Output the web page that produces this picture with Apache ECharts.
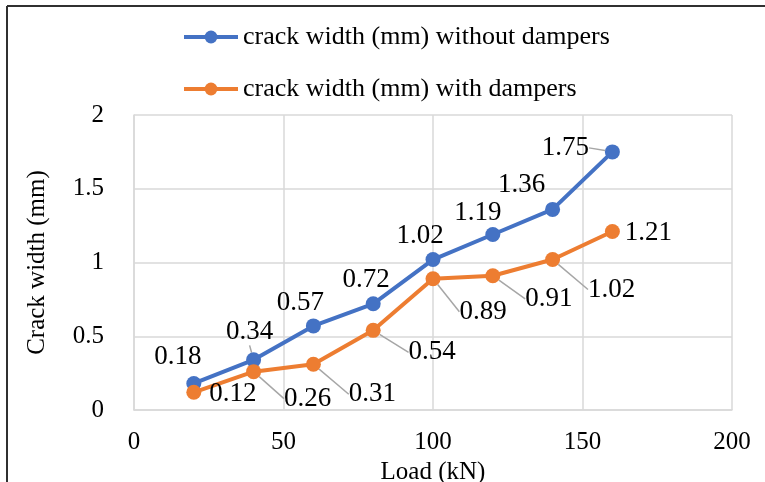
<!DOCTYPE html>
<html>
<head>
<meta charset="utf-8">
<script src="https://cdn.jsdelivr.net/npm/echarts@6/dist/echarts.min.js"></script>
<style>
  html, body { margin: 0; padding: 0; background: #fff; }
  #chart { width: 765px; height: 482px; }
</style>
</head>
<body>
<div id="chart"></div>
<script>
// Load steps (kN) and measured crack widths (mm)
const loads = [20, 40, 60, 80, 100, 120, 140, 160];
const withoutDampers = [0.18, 0.34, 0.57, 0.72, 1.02, 1.19, 1.36, 1.75];
const withDampers = [0.12, 0.26, 0.31, 0.54, 0.89, 0.91, 1.02, 1.21];
const seriesNames = ['crack width (mm) without dampers', 'crack width (mm) with dampers'];
const xTicks = [0, 50, 100, 150, 200];
const yTicks = [0, 0.5, 1, 1.5, 2];

// Label placement relative to each marker, plus whether a leader line is drawn
const blueLabelShift = [[-16, -27, 0], [-4, -28, 1], [-13, -23, 0], [-7, -24, 0], [-13, -24, 0], [-15, -22, 0], [-31, -24, 0], [-47, -4, 1]];
const orangeLabelShift = [[39, 2, 0], [54, 27, 1], [59, 30, 1], [59, 22, 1], [50, 33, 1], [56, 23, 1], [59, 30, 1], [36, 1, 0]];

const FONT = '"Liberation Serif", "Times New Roman", serif';
const BLUE = '#4472C4';
const ORANGE = '#ED7D31';

function buildData(values, shifts) {
  return loads.map((x, i) => ({
    value: [x, values[i]],
    labelLine: { show: !!shifts[i][2] }
  }));
}

function makeSeries(name, values, color, shifts) {
  return {
    name: name,
    type: 'line',
    data: buildData(values, shifts),
    symbol: 'circle',
    symbolSize: 15,
    color: color,
    lineStyle: { width: 4, color: color },
    itemStyle: { color: color },
    label: {
      show: true,
      position: 'inside',
      formatter: p => p.value[1].toFixed(2),
      fontFamily: FONT,
      fontSize: 27,
      color: '#000'
    },
    labelLine: {
      show: false,
      lineStyle: { color: '#A6A6A6', width: 1.5 }
    },
    labelLayout: function (params) {
      const s = shifts[params.dataIndex];
      return { dx: s[0], dy: s[1] };
    },
    emphasis: { disabled: true },
    animation: false
  };
}

const chart = echarts.init(document.getElementById('chart'));
chart.setOption({
  animation: false,
  backgroundColor: '#fff',
  graphic: [
    { type: 'line', shape: { x1: 7, y1: 6, x2: 765, y2: 6 }, style: { stroke: '#303030', lineWidth: 2 } },
    { type: 'line', shape: { x1: 7, y1: 6, x2: 7, y2: 482 }, style: { stroke: '#303030', lineWidth: 2 } }
  ],
  legend: {
    orient: 'vertical',
    left: 177,
    top: 19,
    itemGap: 26,
    itemWidth: 54,
    itemHeight: 16,
    lineStyle: { width: 4 },
    data: seriesNames,
    textStyle: { fontFamily: FONT, fontSize: 26, color: '#000' }
  },
  grid: { left: 134, right: 33, top: 115, bottom: 72, outerBoundsMode: 'none', containLabel: false },
  xAxis: {
    type: 'value',
    min: xTicks[0],
    max: xTicks[xTicks.length - 1],
    interval: 50,
    name: 'Load (kN)',
    nameLocation: 'middle',
    nameGap: 41,
    nameTextStyle: { fontFamily: FONT, fontSize: 25, color: '#000' },
    axisLine: { show: true, lineStyle: { color: '#D9D9D9', width: 1.5 } },
    axisTick: { show: false },
    axisLabel: { fontFamily: FONT, fontSize: 25, color: '#000', margin: 20 },
    splitLine: { show: true, lineStyle: { color: '#D9D9D9', width: 1.5 } }
  },
  yAxis: {
    type: 'value',
    min: yTicks[0],
    max: yTicks[yTicks.length - 1],
    interval: 0.5,
    name: 'Crack width (mm)',
    nameLocation: 'middle',
    nameGap: 84,
    nameRotate: 90,
    nameTextStyle: { fontFamily: FONT, fontSize: 25, color: '#000' },
    axisLine: { show: true, lineStyle: { color: '#D9D9D9', width: 1.5 } },
    axisTick: { show: false },
    axisLabel: { fontFamily: FONT, fontSize: 25, color: '#000', margin: 30 },
    splitLine: { show: true, lineStyle: { color: '#D9D9D9', width: 1.5 } }
  },
  series: [
    makeSeries(seriesNames[0], withoutDampers, BLUE, blueLabelShift),
    makeSeries(seriesNames[1], withDampers, ORANGE, orangeLabelShift)
  ]
});
</script>
</body>
</html>
